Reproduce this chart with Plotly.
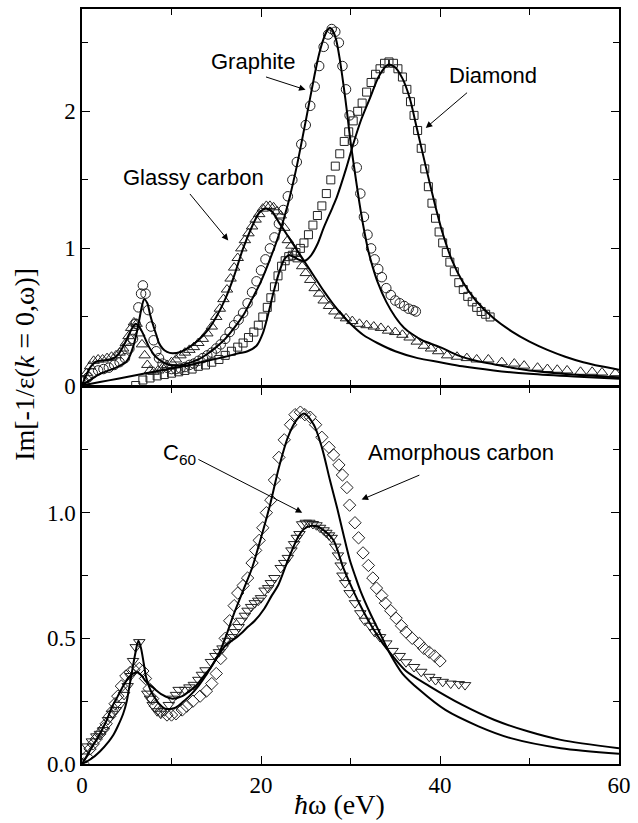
import plotly.graph_objects as go

# ---------------- top panel: experimental data ----------------
graphite_x = [0.2, 0.7, 1.2, 1.8, 2.4, 3.0, 3.6, 4.2, 4.8, 5.3, 5.7, 6.0, 6.3, 6.6, 6.8, 7.1, 7.4, 7.7, 8.0, 8.3,
              8.6, 9.0, 9.5, 10.0, 10.5, 11.0, 11.5, 12.0, 12.5, 13.0, 13.5, 14.0, 14.5, 15.0, 15.5, 16.0, 16.5,
              17.0, 17.5, 18.0, 18.5, 19.0, 19.5, 20.0, 20.5, 21.0, 21.5, 22.0, 22.5, 23.0, 23.5, 24.0, 24.5,
              25.0, 25.5, 26.0, 26.5, 27.0, 27.5, 27.9, 28.3, 28.7, 29.1, 29.5, 29.9, 30.3, 30.7, 31.1, 31.5,
              31.9, 32.3, 32.7, 33.1, 33.5, 34.0, 34.5, 35.0, 35.5, 36.0, 36.5, 37.0, 37.3]
graphite_y = [0.03, 0.06, 0.09, 0.11, 0.12, 0.13, 0.15, 0.17, 0.20, 0.27, 0.34, 0.45, 0.57, 0.67, 0.73, 0.67, 0.55,
              0.43, 0.33, 0.25, 0.20, 0.16, 0.13, 0.12, 0.12, 0.125, 0.135, 0.15, 0.16, 0.18, 0.20, 0.22, 0.24,
              0.27, 0.30, 0.34, 0.39, 0.44, 0.48, 0.53, 0.60, 0.68, 0.76, 0.84, 0.92, 1.00, 1.08, 1.18, 1.28,
              1.38, 1.50, 1.63, 1.76, 1.90, 2.04, 2.18, 2.33, 2.47, 2.56, 2.60, 2.58, 2.50, 2.33, 2.16, 1.97,
              1.78, 1.59, 1.40, 1.23, 1.10, 1.00, 0.92, 0.85, 0.79, 0.71, 0.66, 0.62, 0.60, 0.58, 0.56, 0.55, 0.54]

diamond_x = [6.0, 6.8, 7.6, 8.4, 9.2, 10.0, 10.8, 11.5, 12.3, 13.0, 13.8, 14.5, 15.3, 16.0, 16.7, 17.4, 18.0, 18.6,
             19.2, 19.7, 20.2, 20.7, 21.1, 21.5, 21.9, 22.3, 22.7, 23.1, 23.5, 23.9, 24.4, 24.8, 25.3, 25.8, 26.3,
             26.8, 27.3, 27.8, 28.3, 28.8, 29.3, 29.8, 30.3, 30.8, 31.3, 31.8, 32.3, 32.8, 33.3, 33.8, 34.3, 34.8,
             35.3, 35.8, 36.3, 36.7, 37.1, 37.5, 37.9, 38.3, 38.7, 39.1, 39.5, 39.9, 40.3, 40.7, 41.1, 41.6, 42.1,
             42.6, 43.1, 43.6, 44.1, 44.6, 45.1, 45.6]
diamond_y = [0.0, 0.04, 0.055, 0.07, 0.08, 0.09, 0.10, 0.11, 0.12, 0.14, 0.15, 0.17, 0.19, 0.22, 0.25, 0.28, 0.31,
             0.35, 0.39, 0.44, 0.50, 0.57, 0.64, 0.72, 0.80, 0.87, 0.91, 0.94, 0.95, 0.97, 1.00, 1.04, 1.10, 1.17,
             1.24, 1.31, 1.40, 1.50, 1.60, 1.69, 1.78, 1.85, 1.93, 2.00, 2.06, 2.14, 2.21, 2.27, 2.31, 2.35, 2.36,
             2.35, 2.31, 2.25, 2.16, 2.07, 1.97, 1.86, 1.73, 1.58, 1.45, 1.33, 1.22, 1.12, 1.04, 0.97, 0.90, 0.83,
             0.75, 0.70, 0.65, 0.61, 0.57, 0.54, 0.52, 0.50]

glassy_x = [0.15, 0.5, 0.9, 1.3, 1.8, 2.3, 2.8, 3.3, 3.8, 4.2, 4.6, 4.9, 5.2, 5.5, 5.8, 6.1, 6.4, 6.7, 7.0, 7.3,
            7.6, 8.0, 8.5, 9.0, 9.5, 10.0, 10.5, 11.0, 11.5, 12.0, 12.5, 13.0, 13.5, 14.0, 14.5, 15.0, 15.4, 15.8,
            16.2, 16.6, 17.0, 17.4, 17.8, 18.2, 18.6, 19.0, 19.4, 19.8, 20.2, 20.6, 21.0, 21.4, 21.8, 22.2, 22.6,
            23.0, 23.4, 23.8, 24.2, 24.6, 25.0, 25.5, 26.0, 26.5, 27.0, 27.6, 28.2, 28.8, 29.5, 30.2, 31.0, 31.8,
            32.6, 33.4, 34.2, 35.0, 35.8, 36.6, 37.4, 38.2, 39.0, 39.8, 40.8, 41.9, 43.0, 44.1, 45.4, 46.9, 48.3,
            49.4, 50.9, 52.0, 53.1, 54.2, 55.7, 57.0, 58.1, 59.6]
glassy_y = [0.04, 0.09, 0.14, 0.18, 0.19, 0.19, 0.20, 0.21, 0.22, 0.24, 0.27, 0.31, 0.36, 0.42, 0.46, 0.45, 0.38,
            0.30, 0.22, 0.15, 0.11, 0.10, 0.11, 0.13, 0.15, 0.17, 0.19, 0.22, 0.24, 0.26, 0.28, 0.31, 0.34, 0.38,
            0.43, 0.50, 0.56, 0.63, 0.70, 0.78, 0.86, 0.93, 1.00, 1.06, 1.11, 1.16, 1.21, 1.25, 1.29, 1.31, 1.31,
            1.30, 1.27, 1.24, 1.15, 1.06, 1.02, 0.97, 0.92, 0.87, 0.82, 0.77, 0.71, 0.67, 0.62, 0.58, 0.54, 0.51,
            0.49, 0.47, 0.45, 0.44, 0.43, 0.42, 0.40, 0.39, 0.37, 0.35, 0.32, 0.29, 0.27, 0.25, 0.22, 0.21, 0.20,
            0.19, 0.19, 0.17, 0.16, 0.145, 0.13, 0.12, 0.115, 0.11, 0.10, 0.10, 0.095, 0.09]

# ---------------- top panel: model curves ----------------
graphite_fit_x = [0, 0.5, 1.0, 1.6, 2.5, 3.1, 3.7, 4.2, 4.8, 5.3, 5.7, 6.0, 6.4, 6.8, 7.5, 8.1, 8.6, 9.2, 9.7, 10.4,
                  11.2, 12, 13, 14, 15, 16, 17, 18, 19, 20, 21, 22, 23, 24, 25, 26, 26.5, 27, 27.4, 27.7, 28.0,
                  28.4, 28.8, 29.2, 29.6, 30, 30.5, 31, 31.5, 32, 32.5, 33, 34, 35, 36, 37, 38, 40, 42, 44, 46, 48,
                  50, 53, 56, 60]
graphite_fit_y = [0, 0.08, 0.14, 0.175, 0.185, 0.19, 0.205, 0.24, 0.31, 0.38, 0.43, 0.45, 0.43, 0.38, 0.28, 0.22,
                  0.19, 0.165, 0.152, 0.145, 0.15, 0.165, 0.19, 0.23, 0.28, 0.34, 0.42, 0.51, 0.63, 0.76, 0.92,
                  1.10, 1.32, 1.60, 1.93, 2.27, 2.42, 2.53, 2.59, 2.61, 2.59, 2.52, 2.38, 2.20, 2.00, 1.78, 1.55,
                  1.33, 1.14, 0.98, 0.86, 0.76, 0.61, 0.50, 0.42, 0.37, 0.33, 0.28, 0.22, 0.18, 0.155, 0.13, 0.11,
                  0.09, 0.075, 0.06]

glassy_fit_x = [0, 1, 2, 3, 3.8, 4.4, 4.9, 5.3, 5.7, 6.1, 6.4, 6.7, 6.95, 7.3, 7.6, 7.9, 8.3, 8.6, 9.0, 9.5, 10.1,
                11, 12, 13, 14, 15, 16, 17, 18, 19, 19.8, 20.5, 21.2, 22, 23, 24, 25, 26, 27, 28, 29, 30, 31.4, 33,
                35, 37.5, 40, 42.5, 46, 50, 55, 60]
glassy_fit_y = [0, 0.045, 0.085, 0.11, 0.13, 0.15, 0.17, 0.21, 0.28, 0.38, 0.48, 0.58, 0.63, 0.60, 0.52, 0.45,
                0.37, 0.31, 0.27, 0.245, 0.235, 0.245, 0.28, 0.33, 0.40, 0.50, 0.63, 0.80, 1.00, 1.16, 1.26, 1.29,
                1.27, 1.19, 1.09, 0.99, 0.89, 0.79, 0.69, 0.60, 0.52, 0.45, 0.37, 0.31, 0.25, 0.20, 0.17, 0.14,
                0.11, 0.085, 0.065, 0.05]

diamond_fit_x = [0, 2, 4, 6, 8, 10, 12, 14, 16, 17.5, 18.5, 19.5, 20.2, 20.8, 21.4, 22, 22.6, 23.1, 23.6, 24.3,
                 24.9, 25.6, 26.3, 27, 28, 28.5, 29.5, 30.3, 31.2, 32.2, 33.2, 34.2, 35, 35.8, 36.6, 37.4, 38.4,
                 39.4, 40.3, 41.3, 42.5, 44, 46, 48, 50, 52, 54, 56, 58, 60]
diamond_fit_y = [0, 0.025, 0.05, 0.075, 0.10, 0.125, 0.15, 0.18, 0.21, 0.235, 0.25, 0.29, 0.38, 0.52, 0.68, 0.82,
                 0.92, 0.95, 0.94, 0.915, 0.91, 0.95, 1.03, 1.15, 1.30, 1.38, 1.58, 1.76, 1.94, 2.10, 2.26, 2.34,
                 2.32, 2.24, 2.10, 1.88, 1.60, 1.33, 1.11, 0.92, 0.76, 0.62, 0.49, 0.395, 0.32, 0.26, 0.21, 0.17,
                 0.14, 0.115]

# ---------------- bottom panel: experimental data ----------------
c60_x = [0.2, 0.6, 1.1, 1.6, 2.0, 2.4, 2.9, 3.4, 3.8, 4.2, 4.7, 5.1, 5.4, 5.7, 6.0, 6.4, 7.3, 7.6, 7.9, 8.4, 8.8,
         9.2, 9.7, 10.1, 10.5, 10.8, 11.5, 12.0, 12.5, 13.0, 13.4, 13.8, 14.4, 14.9, 15.3, 15.7, 16.3, 16.7, 17.1,
         17.5, 17.8, 18.2, 18.5, 18.9, 19.3, 19.7, 20.0, 20.4, 20.8, 21.1, 21.5, 22.2, 22.6, 23.0, 23.4, 23.7,
         24.0, 24.3, 24.6, 25.0, 25.4, 25.8, 26.2, 26.6, 27.0, 27.3, 27.6, 27.9, 28.3, 28.6, 28.9, 29.1, 29.4,
         29.9, 30.5, 31.1, 31.6, 32.2, 32.7, 33.3, 34.0, 34.7, 35.5, 36.2, 37.1, 37.9, 38.8, 39.5, 40.3, 41.2,
         42.1, 42.8]
c60_y = [0.03, 0.07, 0.09, 0.11, 0.12, 0.135, 0.175, 0.20, 0.215, 0.235, 0.275, 0.31, 0.35, 0.41, 0.465, 0.485,
         0.28, 0.26, 0.235, 0.21, 0.20, 0.21, 0.235, 0.26, 0.275, 0.295, 0.295, 0.305, 0.315, 0.335, 0.355, 0.373,
         0.406, 0.43, 0.445, 0.46, 0.49, 0.505, 0.525, 0.545, 0.57, 0.59, 0.61, 0.625, 0.64, 0.65, 0.66, 0.69,
         0.70, 0.72, 0.74, 0.78, 0.80, 0.82, 0.85, 0.875, 0.90, 0.915, 0.954, 0.96, 0.96, 0.955, 0.95, 0.94, 0.93,
         0.92, 0.91, 0.90, 0.865, 0.83, 0.79, 0.75, 0.72, 0.68, 0.64, 0.60, 0.57, 0.55, 0.525, 0.505, 0.48, 0.45,
         0.43, 0.405, 0.386, 0.367, 0.347, 0.334, 0.327, 0.32, 0.318, 0.314]

amorph_x = [0.15, 0.5, 0.9, 1.25, 1.6, 2.0, 2.4, 2.7, 3.1, 3.4, 3.7, 4.0, 4.4, 4.9, 5.4, 5.8, 6.4, 6.8, 7.1, 7.5,
            7.9, 8.2, 8.8, 9.5, 10.0, 10.5, 11.2, 11.7, 12.4, 13.2, 13.9, 14.5, 15.0, 15.5, 16.0, 16.5, 17.0, 17.4,
            18.0, 18.5, 19.0, 19.4, 19.8, 20.2, 20.6, 21.1, 21.5, 22.0, 22.6, 23.3, 23.8, 24.4, 24.9, 25.5, 26.1,
            26.8, 27.6, 28.1, 28.7, 29.1, 29.6, 29.9, 30.5, 30.9, 31.4, 32.0, 32.5, 32.9, 33.5, 33.9, 34.5, 35.1,
            35.7, 36.2, 36.9, 37.7, 38.2, 38.8, 39.4, 40.0]
amorph_y = [0.0, 0.03, 0.06, 0.08, 0.10, 0.12, 0.14, 0.16, 0.19, 0.21, 0.24, 0.27, 0.31, 0.35, 0.365, 0.375, 0.38,
            0.37, 0.34, 0.30, 0.26, 0.23, 0.21, 0.195, 0.195, 0.20, 0.215, 0.23, 0.25, 0.27, 0.29, 0.32, 0.36, 0.42,
            0.50, 0.57, 0.63, 0.68, 0.71, 0.74, 0.80, 0.85, 0.89, 0.94, 1.00, 1.05, 1.13, 1.22, 1.29, 1.35, 1.39,
            1.40, 1.39, 1.38, 1.35, 1.30, 1.26, 1.23, 1.19, 1.15, 1.10, 1.03, 0.96, 0.90, 0.84, 0.79, 0.74, 0.70,
            0.67, 0.64, 0.61, 0.58, 0.55, 0.525, 0.50, 0.48, 0.46, 0.445, 0.43, 0.41]

# ---------------- bottom panel: model curves ----------------
c60_fit_x = [0, 1, 2, 3, 3.5, 4.0, 4.6, 5.0, 5.3, 5.6, 5.9, 6.3, 6.6, 6.9, 7.2, 7.7, 8.2, 8.6, 9.3, 10.0, 10.5,
             11.2, 12, 13, 13.8, 14.5, 15.2, 16, 16.7, 17.3, 17.8, 18.5, 19.3, 20.4, 21.2, 21.9, 23, 24.1, 24.8,
             25.5, 26.3, 27, 28.1, 29.2, 30.3, 31.4, 32.5, 33.6, 34.7, 36.2, 38.8, 42.5, 46.1, 49.8, 53.5, 60]
c60_fit_y = [0, 0.02, 0.05, 0.09, 0.115, 0.15, 0.20, 0.25, 0.31, 0.37, 0.43, 0.49, 0.46, 0.40, 0.34, 0.29, 0.26,
             0.24, 0.22, 0.22, 0.225, 0.245, 0.27, 0.31, 0.35, 0.39, 0.43, 0.47, 0.49, 0.505, 0.52, 0.545, 0.57,
             0.62, 0.67, 0.71, 0.81, 0.90, 0.935, 0.947, 0.945, 0.93, 0.89, 0.78, 0.69, 0.61, 0.54, 0.48, 0.43,
             0.37, 0.31, 0.235, 0.175, 0.13, 0.096, 0.063]

amorph_fit_x = [0, 1, 2, 2.7, 3.4, 4.0, 4.6, 5.2, 5.7, 6.2, 6.7, 7.1, 7.9, 9, 10.1, 11.2, 12, 12.7, 13.6, 14.5,
                15.3, 16, 17, 18, 19, 20, 21, 22, 23, 24, 24.8, 25.9, 26.8, 27.7, 28.5, 29.2, 29.9, 30.5, 31.1,
                32.2, 33.3, 34.4, 35.8, 37.7, 40.6, 44.3, 47.9, 53.5, 60]
amorph_fit_y = [0, 0.06, 0.12, 0.17, 0.23, 0.27, 0.31, 0.345, 0.36, 0.365, 0.35, 0.33, 0.305, 0.275, 0.26, 0.27,
                0.29, 0.31, 0.35, 0.39, 0.44, 0.50, 0.60, 0.69, 0.78, 0.90, 1.03, 1.18, 1.30, 1.37, 1.395, 1.35,
                1.26, 1.13, 1.02, 0.915, 0.815, 0.75, 0.69, 0.60, 0.52, 0.44, 0.36, 0.295, 0.215, 0.15, 0.103,
                0.063, 0.041]

# ---------------- tick labels ----------------
x_ticks = [0, 20, 40, 60]
x_minor = [10, 30, 50]
top_y_ticks = [0, 1, 2]
top_y_minor = [0.5, 1.5, 2.5]
bot_y_ticks = [0, 0.5, 1.0]
bot_y_labels = ["0.0", "0.5", "1.0"]
bot_y_minor = [0.25, 0.75, 1.25]

MK = "#222222"
fig = go.Figure()


def markers(x, y, symbol, size, xa, ya):
    fig.add_trace(go.Scatter(x=x, y=y, mode="markers", xaxis=xa, yaxis=ya, showlegend=False,
                             marker=dict(symbol=symbol, size=size, color=MK,
                                         line=dict(color=MK, width=1))))


def curve(x, y, xa, ya):
    fig.add_trace(go.Scatter(x=x, y=y, mode="lines", xaxis=xa, yaxis=ya, showlegend=False,
                             line=dict(color="black", width=2, shape="spline", smoothing=0.8)))


markers(graphite_x, graphite_y, "circle-open", 9.5, "x2", "y2")
markers(diamond_x, diamond_y, "square-open", 8, "x2", "y2")
markers(glassy_x, glassy_y, "triangle-up-open", 10, "x2", "y2")
curve(graphite_fit_x, graphite_fit_y, "x2", "y2")
curve(glassy_fit_x, glassy_fit_y, "x2", "y2")
curve(diamond_fit_x, diamond_fit_y, "x2", "y2")

markers(c60_x, c60_y, "triangle-down-open", 10, "x", "y")
markers(amorph_x, amorph_y, "diamond-open", 9.5, "x", "y")
curve(c60_fit_x, c60_fit_y, "x", "y")
curve(amorph_fit_x, amorph_fit_y, "x", "y")

SERIF = "Liberation Serif, Times New Roman, serif"
SANS = "Liberation Sans, Arial, sans-serif"

axis_common = dict(showline=True, linecolor="black", linewidth=1.5, mirror="ticks", ticks="inside",
                   ticklen=8, tickwidth=1.3, tickcolor="black", showgrid=False, zeroline=False,
                   tickfont=dict(family=SERIF, size=23, color="black"))

SPLIT = 0.4993
TOP0 = SPLIT + 0.002

fig.update_layout(
    width=638, height=823, margin=dict(l=82, r=12, t=7, b=59),
    paper_bgcolor="white", plot_bgcolor="white",
    xaxis=dict(axis_common, domain=[0, 1], range=[0, 60], anchor="y", tickvals=x_ticks,
               minor=dict(tickvals=x_minor, ticks="inside", ticklen=6, tickwidth=1.3, tickcolor="black")),
    xaxis2=dict(axis_common, domain=[0, 1], range=[0, 60], anchor="y2", matches="x", tickvals=x_ticks,
                showticklabels=False,
                minor=dict(tickvals=x_minor, ticks="inside", ticklen=6, tickwidth=1.3, tickcolor="black")),
    yaxis=dict(axis_common, domain=[0, SPLIT], range=[0, 1.5], anchor="x", tickvals=bot_y_ticks,
               ticktext=bot_y_labels,
               minor=dict(tickvals=bot_y_minor, ticks="inside", ticklen=6, tickwidth=1.3, tickcolor="black")),
    yaxis2=dict(axis_common, domain=[TOP0, 1], range=[0, 2.746], anchor="x2", tickvals=top_y_ticks,
                minor=dict(tickvals=top_y_minor, ticks="inside", ticklen=6, tickwidth=1.3, tickcolor="black")),
)

lab_font = dict(family=SANS, size=22, color="black")
ann = []
# labels
ann.append(dict(x=19.09, y=2.362, xref="x2", yref="y2", text="Graphite", showarrow=False, font=lab_font))
ann.append(dict(x=45.9, y=2.261, xref="x2", yref="y2", text="Diamond", showarrow=False, font=lab_font))
ann.append(dict(x=12.47, y=1.518, xref="x2", yref="y2", text="Glassy carbon", showarrow=False, font=lab_font))
ann.append(dict(x=8.8, y=1.235, xref="x", yref="y", text="C<sub>60</sub>", showarrow=False, font=lab_font,
                xanchor="left"))
ann.append(dict(x=42.4, y=1.24, xref="x", yref="y", text="Amorphous carbon", showarrow=False, font=lab_font))
# arrows (head x,y ; tail ax,ay)
arrows = [
    ("x2", "y2", 24.98, 2.157, 20.39, 2.254),
    ("x2", "y2", 38.41, 1.879, 43.19, 2.145),
    ("x2", "y2", 16.34, 1.058, 11.92, 1.408),
    ("x", "y", 24.61, 1.00, 12.84, 1.215),
    ("x", "y", 31.24, 1.052, 37.86, 1.152),
]
for xr, yr, hx, hy, tx, ty in arrows:
    ann.append(dict(x=hx, y=hy, ax=tx, ay=ty, xref=xr, yref=yr, axref=xr, ayref=yr, text="",
                    showarrow=True, arrowhead=2, arrowsize=1.3, arrowwidth=1, arrowcolor="black"))
# axis titles
ann.append(dict(x=(343 - 82) / 544, y=(764 - 805) / 757, xref="paper", yref="paper",
                xanchor="center", yanchor="middle",
                text="<i>ħ</i>ω (eV)", showarrow=False, font=dict(family=SERIF, size=28, color="black")))
ann.append(dict(x=(23 - 82) / 544, y=(764 - 363) / 757, xref="paper", yref="paper", textangle=-90,
                xanchor="center", yanchor="middle",
                text="Im[-1/ε(<i>k</i> = 0,ω)]", showarrow=False,
                font=dict(family=SERIF, size=28, color="black")))
fig.update_layout(annotations=ann)

fig.write_html("out.html")
